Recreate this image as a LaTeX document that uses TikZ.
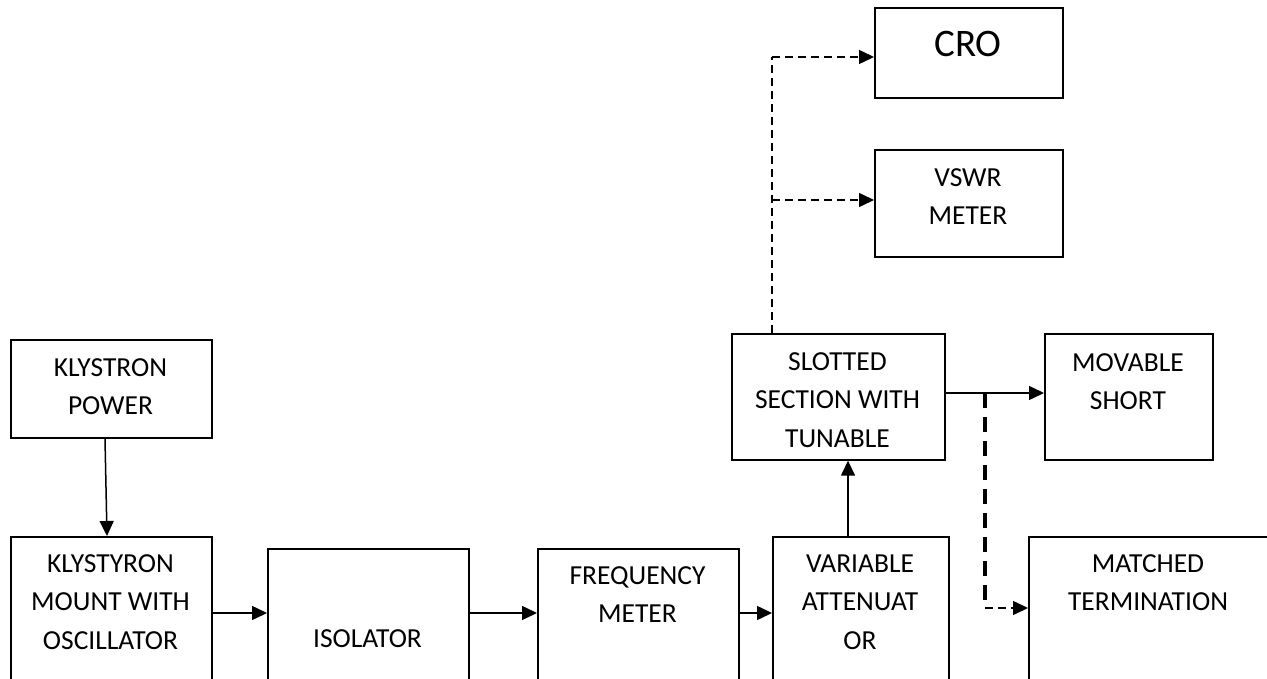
\documentclass[tikz,border=0pt]{standalone}
\usepackage{fontspec}
\setmainfont{Carlito}
\usetikzlibrary{arrows.meta,calc}
\begin{document}
\begin{tikzpicture}[x=1pt,y=-1pt,
  box/.style={draw,line width=1.7pt,rectangle,inner sep=0pt,anchor=north west},
  txt/.style={anchor=north,inner sep=0pt,align=center,font=\fontsize{27.5}{38.5}\selectfont},
  bigtxt/.style={anchor=north,inner sep=0pt,align=center,font=\fontsize{39}{44}\selectfont},
  arr/.style={line width=1.5pt,-{Triangle[length=15pt,width=14pt]}},
  dsh/.style={line width=1.5pt,dash pattern=on 8pt off 5pt},
  thickdsh/.style={line width=4pt,dash pattern=on 15pt off 9pt}]
\clip (0,0) rectangle (1267,679);
\fill[white] (0,0) rectangle (1267,679);
% boxes
\node[box,minimum width=201pt,minimum height=98pt] (kp) at (10,339) {};
\node[box,minimum width=201pt,minimum height=200pt] (km) at (10,536) {};
\node[box,minimum width=201pt,minimum height=200pt] (iso) at (267,548) {};
\node[box,minimum width=201pt,minimum height=200pt] (fm) at (537,548) {};
\node[box,minimum width=176pt,minimum height=200pt] (var) at (772,536) {};
\node[box,minimum width=213pt,minimum height=126pt] (sl) at (731,333) {};
\node[box,minimum width=168pt,minimum height=126pt] (ms) at (1044,333) {};
\node[box,minimum width=245pt,minimum height=200pt] (mt) at (1028,536) {};
\node[box,minimum width=188pt,minimum height=90pt] (cro) at (874,7) {};
\node[box,minimum width=188pt,minimum height=107pt] (vs) at (874,149) {};
% texts
\node[txt] (tkp) at (110.5,358.3) {KLYSTRON\\POWER};
\node[txt] (tkm) at (110.5,554.3) {KLYSTYRON\\MOUNT WITH\\OSCILLATOR};
\node[txt] (tiso) at (367.5,629.3) {ISOLATOR};
\node[txt] (tfm) at (637.5,566.3) {FREQUENCY\\METER};
\node[txt] (tvar) at (860,554.3) {VARIABLE\\ATTENUAT\\OR};
\node[txt] (tsl) at (837.5,352.3) {SLOTTED\\SECTION WITH\\TUNABLE};
\node[txt] (tms) at (1128,353.3) {MOVABLE\\SHORT};
\node[txt] (tmt) at (1148,554.3) {MATCHED\\TERMINATION};
\node[txt] (tvs) at (968,168.3) {VSWR\\METER};
\node[bigtxt] (tcro) at (968,30.5) {CRO};
% helper coordinates
\coordinate (yA) at (0,613);
\coordinate (yB) at (0,393);
\coordinate (yC) at (0,57);
\coordinate (yD) at (0,200);
\coordinate (yE) at (0,608);
\coordinate (xv) at (848,0);
\coordinate (xd) at (772,0);
\coordinate (xt) at (985,0);
% connectors
\draw[arr] ($(kp.south west)+(95,0)$) -- ($(km.north west)+(97,0)$);
\draw[arr] (km.east |- yA) -- (iso.west |- yA);
\draw[arr] (iso.east |- yA) -- (fm.west |- yA);
\draw[arr] (fm.east |- yA) -- (var.west |- yA);
\draw[arr] (var.north -| xv) -- (sl.south -| xv);
\draw[arr] (sl.east |- yB) -- (ms.west |- yB);
\draw[dsh] (sl.north -| xd) -- (xd |- yC);
\draw[dsh,arr] (xd |- yC) -- (cro.west |- yC);
\draw[dsh,arr] (xd |- yD) -- (vs.west |- yD);
\draw[thickdsh] (xt |- yB) -- (xt |- yE);
\draw[dsh,arr] (xt |- yE) -- (mt.west |- yE);
\end{tikzpicture}
\end{document}
